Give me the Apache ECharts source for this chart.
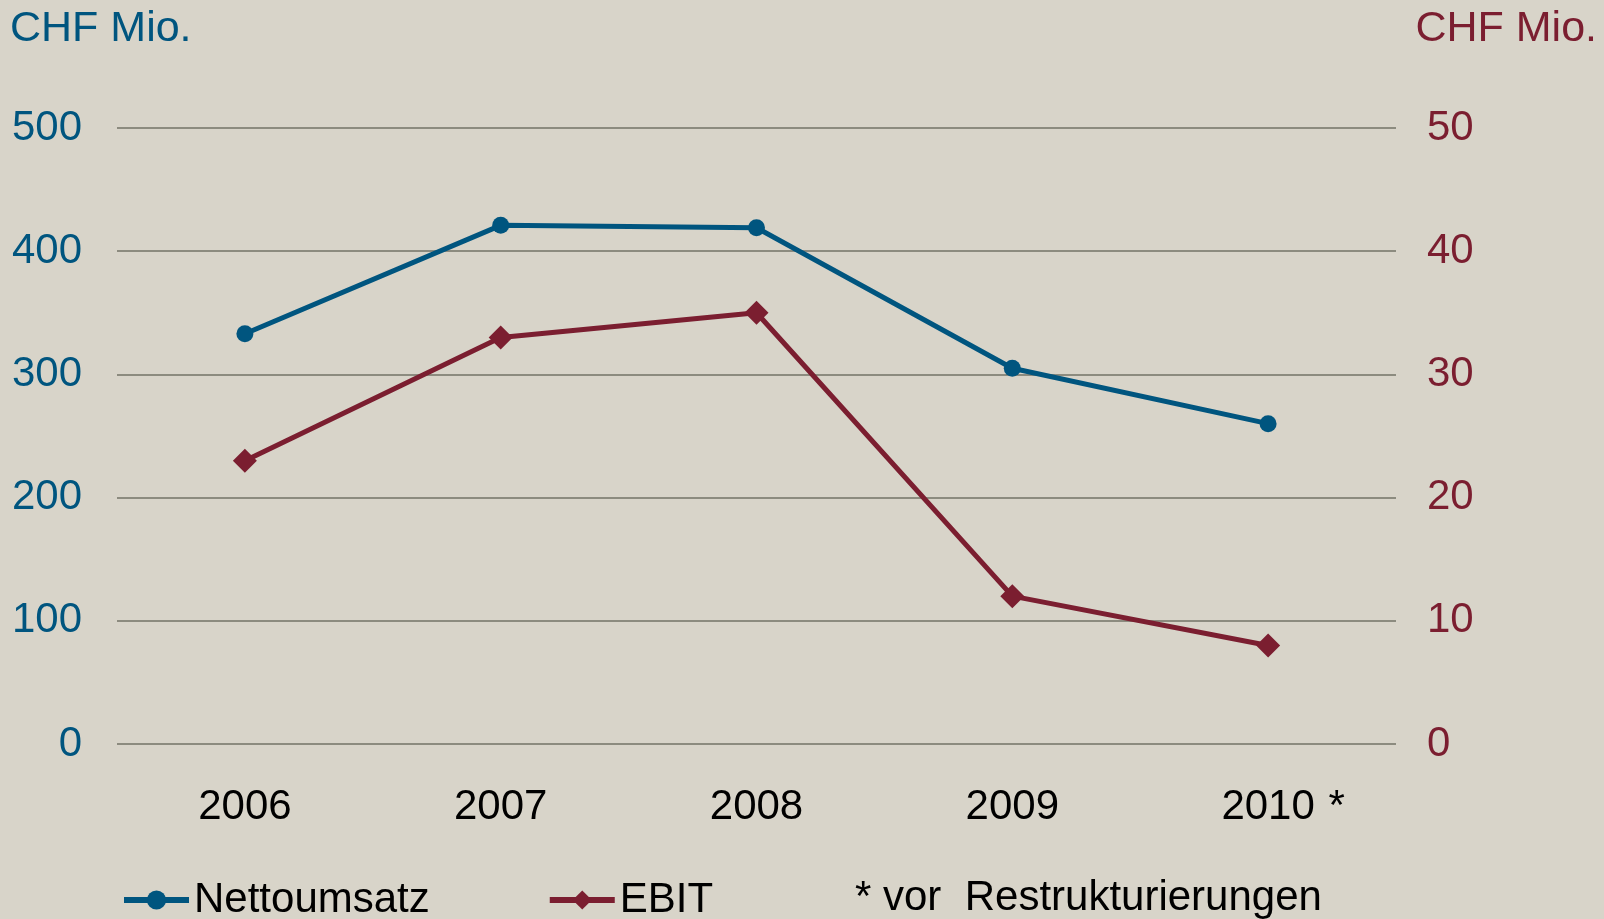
<!DOCTYPE html>
<html>
<head>
<meta charset="utf-8">
<script src="https://cdn.jsdelivr.net/npm/echarts@6/dist/echarts.min.js"></script>
<style>
  html, body { margin: 0; padding: 0; background: #d8d4c9; }
  #chart { width: 1604px; height: 919px; }
</style>
</head>
<body>
<div id="chart"></div>
<script>
const BLUE = '#00557f'
const RED = '#7b1e30'
const GRID = '#8c8b7f'
const FONT = 'Liberation Sans, Arial, sans-serif'

const years = ['2006', '2007', '2008', '2009', '2010']
const nettoumsatz = [333, 421, 419, 305, 260]
const ebit = [23, 33, 35, 12, 8]
const leftTicks = [0, 100, 200, 300, 400, 500]
const rightTicks = [0, 10, 20, 30, 40, 50]

const chart = echarts.init(document.getElementById('chart'))

const option = {
  backgroundColor: '#d8d4c9',
  animation: false,
  textStyle: { fontFamily: FONT },
  title: [
    { text: 'CHF Mio.', left: 5, top: 3, textStyle: { color: BLUE, fontSize: 43, fontWeight: 'normal', fontFamily: FONT } },
    { text: 'CHF Mio.', right: 2, top: 3, textStyle: { color: RED, fontSize: 43, fontWeight: 'normal', fontFamily: FONT } }
  ],
  grid: { left: 117, right: 208, top: 128, bottom: 175 },
  legend: {
    left: 121,
    top: 879,
    padding: 0,
    itemWidth: 65,
    itemHeight: 24,
    itemGap: 117,
    lineStyle: { width: 6 },
    textStyle: { color: '#000', fontSize: 42, fontFamily: FONT },
    data: ['Nettoumsatz', 'EBIT']
  },
  graphic: [{
    type: 'text',
    left: 855,
    top: 877,
    style: { text: '* vor  Restrukturierungen', fill: '#000', font: '42px ' + FONT }
  }],
  xAxis: {
    type: 'category',
    data: years,
    axisLine: { show: false },
    axisTick: { show: false },
    axisLabel: {
      interval: 0,
      color: '#000',
      fontSize: 42,
      margin: 42,
      formatter: v => v === '2010' ? '{p|}' + v + '{s|*}' : v,
      rich: {
        p: { width: 30 },
        s: { width: 30, align: 'right', fontSize: 42, color: '#000' }
      }
    }
  },
  yAxis: [{
    type: 'value',
    min: 0,
    max: 500,
    interval: 100,
    position: 'left',
    axisLine: { show: false },
    axisTick: { show: false },
    splitLine: { lineStyle: { color: GRID, width: 2 } },
    axisLabel: {
      color: BLUE,
      fontSize: 42,
      margin: 35,
      formatter: v => leftTicks.includes(v) ? String(v) : ''
    }
  }, {
    type: 'value',
    min: 0,
    max: 50,
    interval: 10,
    position: 'right',
    axisLine: { show: false },
    axisTick: { show: false },
    splitLine: { show: false },
    axisLabel: {
      color: RED,
      fontSize: 42,
      margin: 31,
      formatter: v => rightTicks.includes(v) ? String(v) : ''
    }
  }],
  series: [{
    name: 'Nettoumsatz',
    type: 'line',
    yAxisIndex: 0,
    data: nettoumsatz,
    symbol: 'circle',
    symbolSize: 17,
    itemStyle: { color: BLUE },
    lineStyle: { color: BLUE, width: 5 }
  }, {
    name: 'EBIT',
    type: 'line',
    yAxisIndex: 1,
    data: ebit,
    symbol: 'diamond',
    symbolSize: 24,
    itemStyle: { color: RED },
    lineStyle: { color: RED, width: 5 }
  }]
}

chart.setOption(option)
</script>
</body>
</html>
